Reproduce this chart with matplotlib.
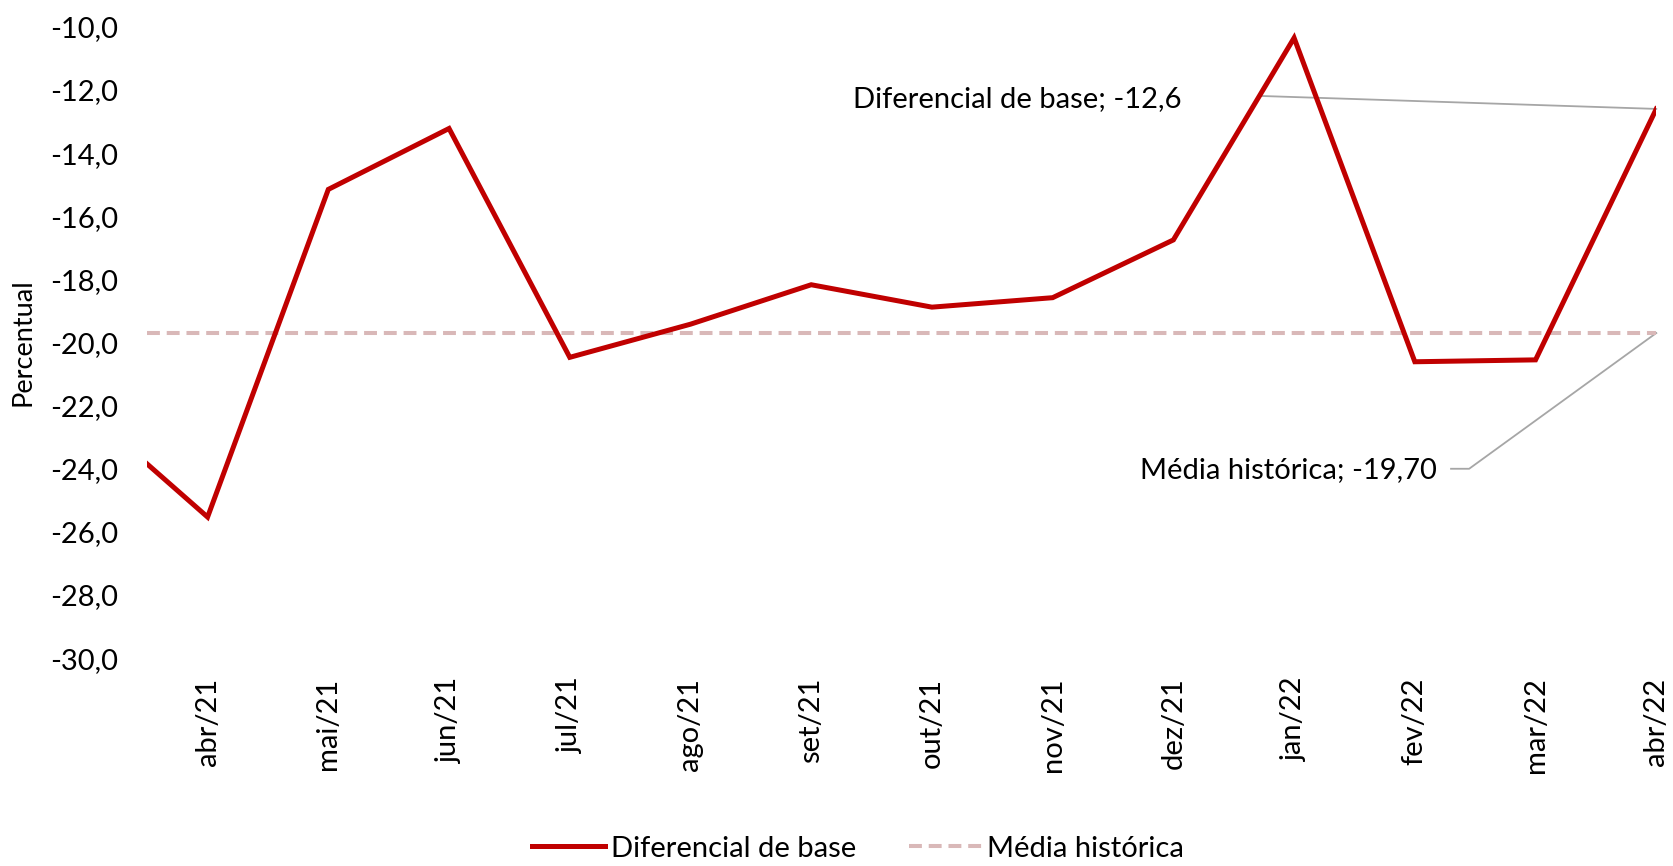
import matplotlib
matplotlib.use('Agg')
import matplotlib.pyplot as plt
from matplotlib.ticker import FuncFormatter

# data
meses = ['abr/21', 'mai/21', 'jun/21', 'jul/21', 'ago/21', 'set/21', 'out/21',
         'nov/21', 'dez/21', 'jan/22', 'fev/22', 'mar/22', 'abr/22']
# line begins half a month before abr/21
pos = [-0.5] + list(range(len(meses)))
diferencial = [-23.85, -25.53, -15.15, -13.22, -20.47, -19.42, -18.17, -18.88,
               -18.58, -16.75, -10.35, -20.61, -20.55, -12.6]
media = -19.70

plt.rcParams['font.family'] = ['Lato', 'DejaVu Sans']

fig = plt.figure(figsize=(16.73, 8.66), dpi=100)
ax = fig.add_axes([0.088, 0.240, 0.902, 0.729])

ax.plot(pos, diferencial, color='#C00000', lw=3.6, solid_joinstyle='miter',
        label='Diferencial de base', zorder=3)
ax.axhline(media, color='#D9B8B8', lw=2.9, dashes=(3.2, 1.7),
           label='Média histórica', zorder=2)

ax.set_xlim(-0.5, 12)
ax.set_ylim(-30, -10)
ax.set_yticks(range(-30, -9, 2))
ax.yaxis.set_major_formatter(FuncFormatter(lambda v, p: '{0:.1f}'.format(v).replace('.', ',')))
ax.set_xticks(range(len(meses)))
ax.set_xticklabels(meses, rotation=90, va='top', ha='center')
ax.tick_params(axis='y', length=0, pad=21, labelsize=21)
ax.tick_params(axis='x', length=0, pad=14, labelsize=21)
for s in ax.spines.values():
    s.set_visible(False)

ax.set_ylabel('Percentual', fontsize=19.5)
ax.yaxis.set_label_coords(-0.074, 0.5)

# data labels with leader lines (Excel style)
ax.text(8.07, -12.3, 'Diferencial de base; -12,6', fontsize=21, ha='right', va='center')
ax.plot([8.73, 12], [-12.19, diferencial[-1]], color='#A6A6A6', lw=1.3, zorder=1,
        clip_on=False)
ax.text(10.18, -24.05, 'Média histórica; -19,70', fontsize=21, ha='right', va='center')
ax.plot([10.30, 10.45, 12], [-24.0, -24.0, media], color='#A6A6A6', lw=1.3, zorder=1,
        clip_on=False)

leg = fig.legend(loc='center', bbox_to_anchor=(0.513, 0.020), ncol=2, frameon=False,
                 fontsize=21, handlelength=2.5, handletextpad=0.2, columnspacing=1.8)

fig.savefig('out.png', dpi=100)
